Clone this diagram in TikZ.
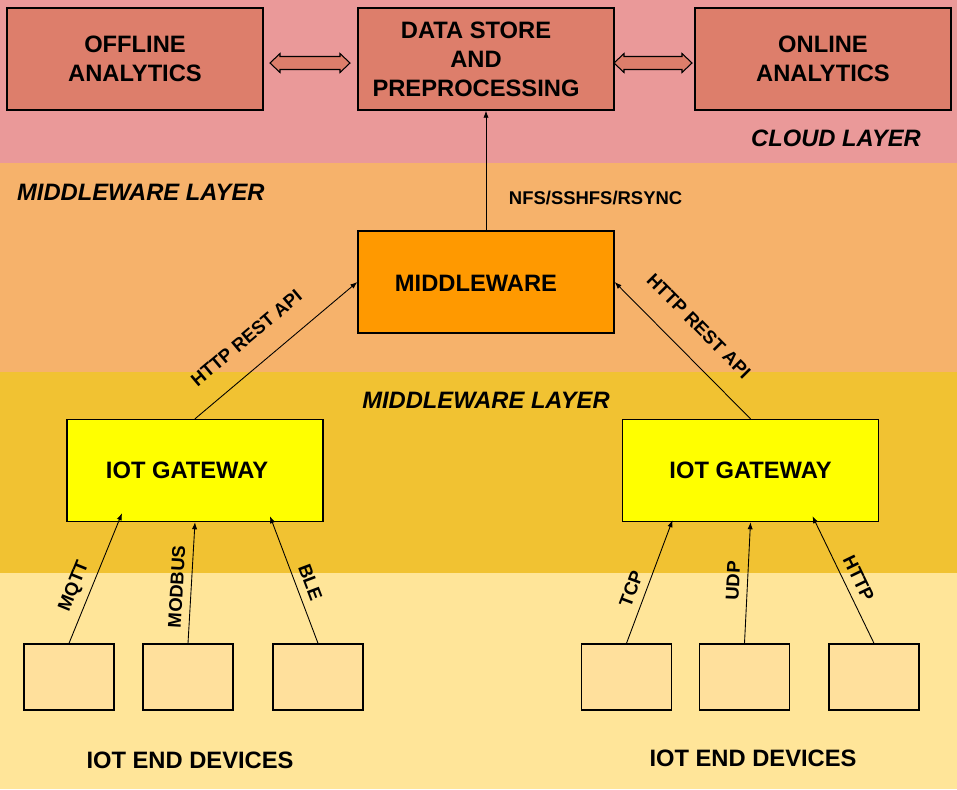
\documentclass[tikz,border=0pt]{standalone}
\usepackage{fontspec}
\setmainfont{Liberation Sans}
\usetikzlibrary{arrows.meta,calc}
\definecolor{cloudband}{HTML}{EA9999}
\definecolor{mwband}{HTML}{F6B26B}
\definecolor{gwband}{HTML}{F1C232}
\definecolor{devband}{HTML}{FFE599}
\definecolor{boxfill}{HTML}{DD7E6B}
\definecolor{mwfill}{HTML}{FF9900}
\definecolor{gwfill}{HTML}{FFFF00}
\definecolor{devfill}{HTML}{FFE09C}
\begin{document}
\begin{tikzpicture}[x=0.02cm,y=0.02cm,
  box/.style={draw,line width=0.8pt,minimum width=5.12cm,minimum height=2.04cm,inner sep=0pt,align=center,font=\bfseries\fontsize{13.5}{16.5}\selectfont},
  boxtext/.style={align=center,inner sep=0pt,font=\bfseries\fontsize{13.5}{16.5}\selectfont},
  device/.style={draw,line width=0.8pt,fill=devfill,minimum width=1.8cm,minimum height=1.32cm,inner sep=0pt},
  link/.style={-{Latex[length=4pt,width=3pt]},line width=0.5pt},
  proto/.style={font=\bfseries\fontsize{10.5}{12}\selectfont,sloped,above=1pt},
  layer/.style={font=\bfseries\itshape\fontsize{13.5}{16.5}\selectfont},
  swap/.style={draw,line width=0.6pt,fill=boxfill,line join=miter}]
\useasboundingbox (0,0) rectangle (957,-789);
% layer bands
\fill[cloudband](0,0) rectangle (957,-163);
\fill[mwband](0,-163) rectangle (957,-372);
\fill[gwband](0,-372) rectangle (957,-573);
\fill[devband](0,-573) rectangle (957,-789);
%
\node[layer] (cloudLbl) at (836,-138) {CLOUD LAYER};
\node[layer,anchor=west] (mwLblA) at (11,-192) {MIDDLEWARE LAYER};
\node[layer] (mwLblB) at (486,-400) {MIDDLEWARE LAYER};
% cloud
\node[box,fill=boxfill] (offl) at (135,-59) {OFFLINE\\ANALYTICS};
\node[box,fill=boxfill] (ds) at (486,-59) {};
\node[boxtext] (dsText) at (476,-59) {DATA STORE\\AND\\PREPROCESSING};
\node[box,fill=boxfill] (onl) at (823,-59) {ONLINE\\ANALYTICS};
\draw[swap](270,-63)--++(10,9.5)--++(0,-3)--++(60,0)--++(0,3)--++(10,-9.5)
  --++(-10,-9.5)--++(0,3)--++(-60,0)--++(0,-3)--cycle;
\draw[swap](614,-63)--++(10,9.5)--++(0,-3)--++(58,0)--++(0,3)--++(10,-9.5)
  --++(-10,-9.5)--++(0,3)--++(-58,0)--++(0,-3)--cycle;
% middleware
\node[box,fill=mwfill] (mw) at (486,-282) {};
\node[boxtext] (mwText) at (476,-283) {MIDDLEWARE};
\draw[link](mw.north)--node[pos=0.27,right=9.5pt,font=\bfseries\fontsize{10.5}{12}\selectfont]{NFS/SSHFS/RSYNC}(ds.south);
% gateways
\node[box,fill=gwfill] (gwL) at (195,-470.5) {};
\node[boxtext] (gwLText) at (187,-470.5) {IOT GATEWAY};
\node[box,fill=gwfill] (gwR) at (750.5,-470.5) {IOT GATEWAY};
\draw[link](gwL.north)--node[proto,pos=0.43,above=8pt]{HTTP REST API}(mw.west);
\draw[link](gwR.north)--node[proto,pos=0.53,above=8pt]{HTTP REST API}(mw.east);
% end devices
\node[device] (devA) at (69,-677) {};
\node[device] (devB) at (188,-677) {};
\node[device] (devC) at (318,-677) {};
\node[device] (devD) at (626.5,-677) {};
\node[device] (devE) at (744.5,-677) {};
\node[device] (devF) at (874,-677) {};
\draw[link](devA.north)--node[proto,pos=0.39]{MQTT}($(gwL.south)+(-73,9)$);
\draw[link](devB.north)--node[proto,pos=0.46]{MODBUS}(gwL.south);
\draw[link](devC.north)--node[proto,pos=0.44]{BLE}($(gwL.south)+(75,6)$);
\draw[link](devD.north)--node[proto,pos=0.40]{TCP}($(gwR.south)+(-78,2)$);
\draw[link](devE.north)--node[proto,pos=0.51,above=0pt]{UDP}(gwR.south);
\draw[link](devF.north)--node[proto,pos=0.46]{HTTP}($(gwR.south)+(62,6)$);
%
\node[boxtext] (devLblL) at (190,-760) {IOT END DEVICES};
\node[boxtext] (devLblR) at (753,-758) {IOT END DEVICES};
\end{tikzpicture}
\end{document}
